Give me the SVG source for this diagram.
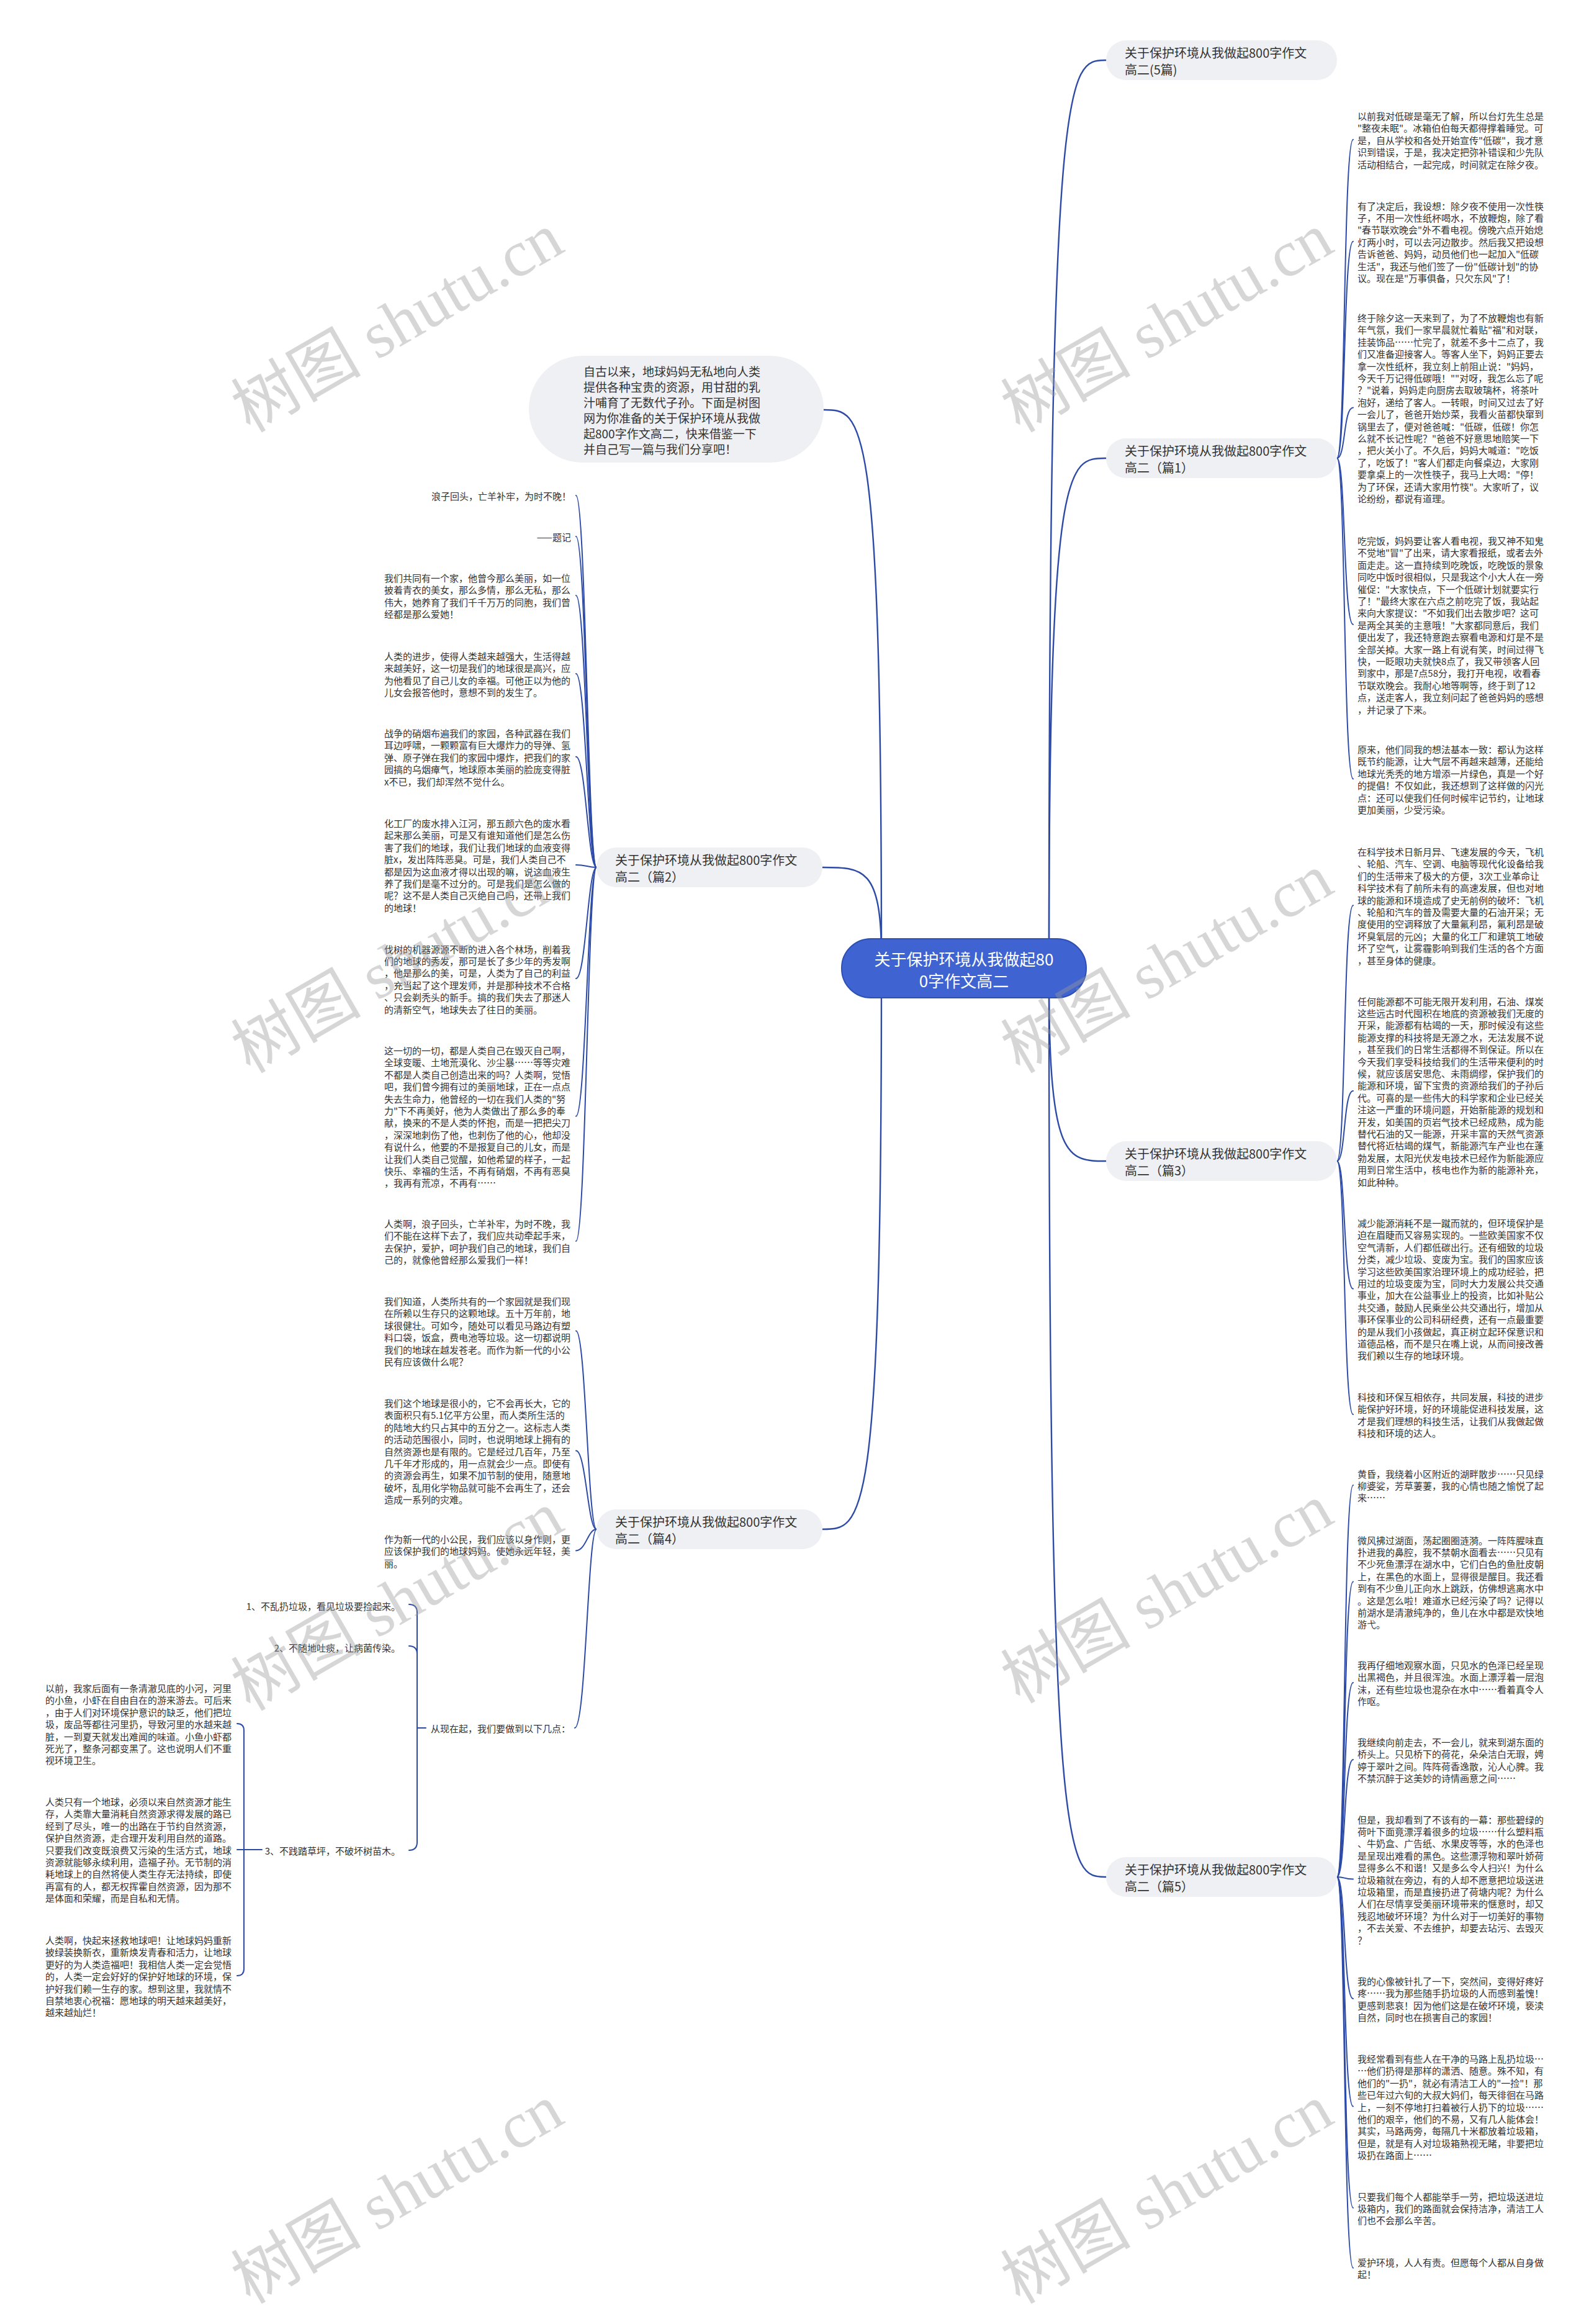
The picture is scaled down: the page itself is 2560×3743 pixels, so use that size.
<svg xmlns="http://www.w3.org/2000/svg" width="2560" height="3743" viewBox="0 0 2560 3743">
<style>
.t{font-family:"Noto Sans CJK SC","Noto Sans",sans-serif;font-size:15px;fill:#333;dominant-baseline:central}
.n{font-family:"Noto Sans CJK SC","Noto Sans",sans-serif;font-size:20px;fill:#333;dominant-baseline:central}
.ib{font-family:"Noto Sans CJK SC","Noto Sans",sans-serif;font-size:19px;fill:#333;dominant-baseline:central}
.ct{font-family:"Noto Sans CJK SC","Noto Sans",sans-serif;font-size:26px;fill:#fff;dominant-baseline:central;text-anchor:middle}
.pill{fill:#eef0f4}
.c{fill:none;stroke:#2c4aa6;stroke-width:2.4;stroke-linecap:round}
.c2{fill:none;stroke:#2c4aa6;stroke-width:2;stroke-linecap:round}
.wm{font-family:"Liberation Serif","Noto Sans CJK SC",serif;font-size:105px;fill:#9a9a9a;opacity:0.4;text-anchor:middle;dominant-baseline:central}
.e{text-anchor:end}
</style>
<rect width="2560" height="3743" fill="#fff"/>

<g id="connectors">
<path class="c" d="M1690 1540 C1690 97 1720 97 1782 97"/>
<path class="c" d="M1690 1540 C1690 738 1720 738 1782 738"/>
<path class="c" d="M1690 1580 C1690 1870 1720 1870 1782 1870"/>
<path class="c" d="M1690 1580 C1690 3023 1720 3023 1782 3023"/>
<path class="c" d="M1420 1540 C1420 660 1390 660 1327 660"/>
<path class="c" d="M1420 1540 C1420 1397 1390 1397 1325 1397"/>
<path class="c" d="M1420 1580 C1420 2463 1390 2463 1325 2463"/>

<path class="c2" d="M2154 738 C2168 738 2164 224.8 2180 224.8"/>
<path class="c2" d="M2154 738 C2168 738 2164 388.7 2180 388.7"/>
<path class="c2" d="M2154 738 C2168 738 2164 656.5 2180 656.5"/>
<path class="c2" d="M2154 738 C2168 738 2164 1005.8 2180 1005.8"/>
<path class="c2" d="M2154 738 C2168 738 2164 1254.5 2180 1254.5"/>

<path class="c2" d="M2154 1870 C2168 1870 2164 1458.3 2180 1458.3"/>
<path class="c2" d="M2154 1870 C2168 1870 2164 1757 2180 1757"/>
<path class="c2" d="M2154 1870 C2168 1870 2164 2075.7 2180 2075.7"/>
<path class="c2" d="M2154 1870 C2168 1870 2164 2278.1 2180 2278.1"/>

<path class="c2" d="M2154 3023 C2168 3023 2164 2391.9 2180 2391.9"/>
<path class="c2" d="M2154 3023 C2168 3023 2164 2547.4 2180 2547.4"/>
<path class="c2" d="M2154 3023 C2168 3023 2164 2710.1 2180 2710.1"/>
<path class="c2" d="M2154 3023 C2168 3023 2164 2834.1 2180 2834.1"/>
<path class="c2" d="M2154 3023 C2168 3023 2164 3026.5 2180 3026.5"/>
<path class="c2" d="M2154 3023 C2168 3023 2164 3219.1 2180 3219.1"/>
<path class="c2" d="M2154 3023 C2168 3023 2164 3392.6 2180 3392.6"/>
<path class="c2" d="M2154 3023 C2168 3023 2164 3555.9 2180 3555.9"/>
<path class="c2" d="M2154 3023 C2168 3023 2164 3652.7 2180 3652.7"/>

<path class="c2" d="M961 1397 C947 1397 944 798 928 798"/>
<path class="c2" d="M961 1397 C947 1397 944 864 928 864"/>
<path class="c2" d="M961 1397 C947 1397 944 959.1 928 959.1"/>
<path class="c2" d="M961 1397 C947 1397 944 1085.1 928 1085.1"/>
<path class="c2" d="M961 1397 C947 1397 944 1218.8 928 1218.8"/>
<path class="c2" d="M961 1397 C947 1397 944 1392.9 928 1392.9"/>
<path class="c2" d="M961 1397 C947 1397 944 1576 928 1576"/>
<path class="c2" d="M961 1397 C947 1397 944 1797.7 928 1797.7"/>
<path class="c2" d="M961 1397 C947 1397 944 1999.1 928 1999.1"/>

<path class="c2" d="M961 2463 C947 2463 944 2143.5 928 2143.5"/>
<path class="c2" d="M961 2463 C947 2463 944 2336.6 928 2336.6"/>
<path class="c2" d="M961 2463 C947 2463 944 2497.4 928 2497.4"/>
<path class="c2" d="M961 2463 C947 2463 944 2783 926 2783"/>

<path class="c2" d="M659 2584 Q672 2584 672 2597 V2967 Q672 2980 659 2980"/>
<path class="c2" d="M659 2651 Q672 2651 672 2664"/>
<path class="c2" d="M672 2783 H686"/>

<path class="c2" d="M382 2776 Q393 2776 393 2787 V3171 Q393 3182 382 3182"/>
<path class="c2" d="M382 2979 H422"/>
</g>

<g id="center">
<rect x="1356" y="1512" width="394" height="95" rx="47" fill="#3f63d1" stroke="#2e4fb3" stroke-width="2"/>
<text class="ct"><tspan x="1553" y="1543">关于保护环境从我做起80</tspan><tspan x="1553" y="1578">0字作文高二</tspan></text>
</g>

<g id="intro">
<rect x="852" y="573" width="475" height="172" rx="86" class="pill"/>
<text class="ib"><tspan x="940" y="597">自古以来，地球妈妈无私地向人类</tspan><tspan x="940" dy="25">提供各种宝贵的资源，用甘甜的乳</tspan><tspan x="940" dy="25">汁哺育了无数代子孙。下面是树图</tspan><tspan x="940" dy="25">网为你准备的关于保护环境从我做</tspan><tspan x="940" dy="25">起800字作文高二，快来借鉴一下</tspan><tspan x="940" dy="25">并自己写一篇与我们分享吧！</tspan></text>
</g>

<g id="b0">
<rect x="1782" y="65" width="372" height="64" rx="32" class="pill"/>
<text class="n"><tspan x="1812" y="84">关于保护环境从我做起800字作文</tspan><tspan x="1812" dy="27">高二(5篇)</tspan></text>
</g>
<g id="b1">
<rect x="1782" y="706" width="372" height="64" rx="32" class="pill"/>
<text class="n"><tspan x="1812" y="725">关于保护环境从我做起800字作文</tspan><tspan x="1812" dy="27">高二（篇1）</tspan></text>
</g>
<g id="b3">
<rect x="1782" y="1838" width="372" height="64" rx="32" class="pill"/>
<text class="n"><tspan x="1812" y="1857">关于保护环境从我做起800字作文</tspan><tspan x="1812" dy="27">高二（篇3）</tspan></text>
</g>
<g id="b5">
<rect x="1782" y="2991" width="372" height="64" rx="32" class="pill"/>
<text class="n"><tspan x="1812" y="3010">关于保护环境从我做起800字作文</tspan><tspan x="1812" dy="27">高二（篇5）</tspan></text>
</g>
<g id="b2">
<rect x="961" y="1365" width="364" height="64" rx="32" class="pill"/>
<text class="n"><tspan x="991" y="1384">关于保护环境从我做起800字作文</tspan><tspan x="991" dy="27">高二（篇2）</tspan></text>
</g>
<g id="b4">
<rect x="961" y="2431" width="364" height="64" rx="32" class="pill"/>
<text class="n"><tspan x="991" y="2450">关于保护环境从我做起800字作文</tspan><tspan x="991" dy="27">高二（篇4）</tspan></text>
</g>

<g id="r1"><text class="t"><tspan x="2187" y="186">以前我对低碳是毫无了解，所以台灯先生总是</tspan><tspan x="2187" dy="19.4">"整夜未眠"。冰箱伯伯每天都得撑着睡觉。可</tspan><tspan x="2187" dy="19.4">是，自从学校和各处开始宣传"低碳"，我才意</tspan><tspan x="2187" dy="19.4">识到错误，于是，我决定把弥补错误和少先队</tspan><tspan x="2187" dy="19.4">活动相结合，一起完成，时间就定在除夕夜。</tspan></text></g>

<g id="r2"><text class="t"><tspan x="2187" y="330.5">有了决定后，我设想：除夕夜不使用一次性筷</tspan><tspan x="2187" dy="19.4">子，不用一次性纸杯喝水，不放鞭炮，除了看</tspan><tspan x="2187" dy="19.4">"春节联欢晚会"外不看电视。傍晚六点开始熄</tspan><tspan x="2187" dy="19.4">灯两小时，可以去河边散步。然后我又把设想</tspan><tspan x="2187" dy="19.4">告诉爸爸、妈妈，动员他们也一起加入"低碳</tspan><tspan x="2187" dy="19.4">生活"，我还与他们签了一份"低碳计划"的协</tspan><tspan x="2187" dy="19.4">议。现在是"万事俱备，只欠东风"了！</tspan></text></g>

<g id="r3"><text class="t"><tspan x="2187" y="511">终于除夕这一天来到了，为了不放鞭炮也有新</tspan><tspan x="2187" dy="19.4">年气氛，我们一家早晨就忙着贴"福"和对联，</tspan><tspan x="2187" dy="19.4">挂装饰品……忙完了，就差不多十二点了，我</tspan><tspan x="2187" dy="19.4">们又准备迎接客人。等客人坐下，妈妈正要去</tspan><tspan x="2187" dy="19.4">拿一次性纸杯，我立刻上前阻止说："妈妈，</tspan><tspan x="2187" dy="19.4">今天千万记得低碳哦！""对呀，我怎么忘了呢</tspan><tspan x="2187" dy="19.4">？"说着，妈妈走向厨房去取玻璃杯，将茶叶</tspan><tspan x="2187" dy="19.4">泡好，递给了客人。一转眼，时间又过去了好</tspan><tspan x="2187" dy="19.4">一会儿了，爸爸开始炒菜，我看火苗都快窜到</tspan><tspan x="2187" dy="19.4">锅里去了，便对爸爸喊："低碳，低碳！你怎</tspan><tspan x="2187" dy="19.4">么就不长记性呢？"爸爸不好意思地赔笑一下</tspan><tspan x="2187" dy="19.4">，把火关小了。不久后，妈妈大喊道："吃饭</tspan><tspan x="2187" dy="19.4">了，吃饭了！"客人们都走向餐桌边，大家刚</tspan><tspan x="2187" dy="19.4">要拿桌上的一次性筷子，我马上大喝："停！</tspan><tspan x="2187" dy="19.4">为了环保，还请大家用竹筷"。大家听了，议</tspan><tspan x="2187" dy="19.4">论纷纷，都说有道理。</tspan></text></g>

<g id="r4"><text class="t"><tspan x="2187" y="870">吃完饭，妈妈要让客人看电视，我又神不知鬼</tspan><tspan x="2187" dy="19.4">不觉地"冒"了出来，请大家看报纸，或者去外</tspan><tspan x="2187" dy="19.4">面走走。这一直持续到吃晚饭，吃晚饭的景象</tspan><tspan x="2187" dy="19.4">同吃中饭时很相似，只是我这个小大人在一旁</tspan><tspan x="2187" dy="19.4">催促："大家快点，下一个低碳计划就要实行</tspan><tspan x="2187" dy="19.4">了！"最终大家在六点之前吃完了饭，我站起</tspan><tspan x="2187" dy="19.4">来向大家提议："不如我们出去散步吧？这可</tspan><tspan x="2187" dy="19.4">是两全其美的主意哦！"大家都同意后，我们</tspan><tspan x="2187" dy="19.4">便出发了，我还特意跑去察看电源和灯是不是</tspan><tspan x="2187" dy="19.4">全部关掉。大家一路上有说有笑，时间过得飞</tspan><tspan x="2187" dy="19.4">快，一眨眼功夫就快8点了，我又带领客人回</tspan><tspan x="2187" dy="19.4">到家中，那是7点58分，我打开电视，收看春</tspan><tspan x="2187" dy="19.4">节联欢晚会。我耐心地等啊等，终于到了12</tspan><tspan x="2187" dy="19.4">点，送走客人，我立刻问起了爸爸妈妈的感想</tspan><tspan x="2187" dy="19.4">，并记录了下来。</tspan></text></g>

<g id="r5"><text class="t"><tspan x="2187" y="1206">原来，他们同我的想法基本一致：都认为这样</tspan><tspan x="2187" dy="19.4">既节约能源，让大气层不再越来越薄，还能给</tspan><tspan x="2187" dy="19.4">地球光秃秃的地方增添一片绿色，真是一个好</tspan><tspan x="2187" dy="19.4">的提倡！不仅如此，我还想到了这样做的闪光</tspan><tspan x="2187" dy="19.4">点：还可以使我们任何时候牢记节约，让地球</tspan><tspan x="2187" dy="19.4">更加美丽，少受污染。</tspan></text></g>

<g id="r6"><text class="t"><tspan x="2187" y="1371">在科学技术日新月异、飞速发展的今天，飞机</tspan><tspan x="2187" dy="19.4">、轮船、汽车、空调、电脑等现代化设备给我</tspan><tspan x="2187" dy="19.4">们的生活带来了极大的方便，3次工业革命让</tspan><tspan x="2187" dy="19.4">科学技术有了前所未有的高速发展，但也对地</tspan><tspan x="2187" dy="19.4">球的能源和环境造成了史无前例的破坏：飞机</tspan><tspan x="2187" dy="19.4">、轮船和汽车的普及需要大量的石油开采；无</tspan><tspan x="2187" dy="19.4">度使用的空调释放了大量氟利昂，氟利昂是破</tspan><tspan x="2187" dy="19.4">坏臭氧层的元凶；大量的化工厂和建筑工地破</tspan><tspan x="2187" dy="19.4">坏了空气，让雾霾影响到我们生活的各个方面</tspan><tspan x="2187" dy="19.4">，甚至身体的健康。</tspan></text></g>

<g id="r7"><text class="t"><tspan x="2187" y="1611.5">任何能源都不可能无限开发利用，石油、煤炭</tspan><tspan x="2187" dy="19.4">这些远古时代囤积在地底的资源被我们无度的</tspan><tspan x="2187" dy="19.4">开采，能源都有枯竭的一天，那时候没有这些</tspan><tspan x="2187" dy="19.4">能源支撑的科技将是无源之水，无法发展不说</tspan><tspan x="2187" dy="19.4">，甚至我们的日常生活都得不到保证。所以在</tspan><tspan x="2187" dy="19.4">今天我们享受科技给我们的生活带来便利的时</tspan><tspan x="2187" dy="19.4">候，就应该居安思危、未雨绸缪，保护我们的</tspan><tspan x="2187" dy="19.4">能源和环境，留下宝贵的资源给我们的子孙后</tspan><tspan x="2187" dy="19.4">代。可喜的是一些伟大的科学家和企业已经关</tspan><tspan x="2187" dy="19.4">注这一严重的环境问题，开始新能源的规划和</tspan><tspan x="2187" dy="19.4">开发，如美国的页岩气技术已经成熟，成为能</tspan><tspan x="2187" dy="19.4">替代石油的又一能源，开采丰富的天然气资源</tspan><tspan x="2187" dy="19.4">替代将近枯竭的煤气，新能源汽车产业也在蓬</tspan><tspan x="2187" dy="19.4">勃发展，太阳光伏发电技术已经作为新能源应</tspan><tspan x="2187" dy="19.4">用到日常生活中，核电也作为新的能源补充，</tspan><tspan x="2187" dy="19.4">如此种种。</tspan></text></g>

<g id="r8"><text class="t"><tspan x="2187" y="1969">减少能源消耗不是一蹴而就的，但环境保护是</tspan><tspan x="2187" dy="19.4">迫在眉睫而又容易实现的。一些欧美国家不仅</tspan><tspan x="2187" dy="19.4">空气清新，人们都低碳出行。还有细致的垃圾</tspan><tspan x="2187" dy="19.4">分类，减少垃圾、变废为宝。我们的国家应该</tspan><tspan x="2187" dy="19.4">学习这些欧美国家治理环境上的成功经验，把</tspan><tspan x="2187" dy="19.4">用过的垃圾变废为宝，同时大力发展公共交通</tspan><tspan x="2187" dy="19.4">事业，加大在公益事业上的投资，比如补贴公</tspan><tspan x="2187" dy="19.4">共交通，鼓励人民乘坐公共交通出行，增加从</tspan><tspan x="2187" dy="19.4">事环保事业的公司科研经费，还有一点最重要</tspan><tspan x="2187" dy="19.4">的是从我们小孩做起，真正树立起环保意识和</tspan><tspan x="2187" dy="19.4">道德品格，而不是只在嘴上说，从而间接改善</tspan><tspan x="2187" dy="19.4">我们赖以生存的地球环境。</tspan></text></g>

<g id="r9"><text class="t"><tspan x="2187" y="2249">科技和环保互相依存，共同发展，科技的进步</tspan><tspan x="2187" dy="19.4">能保护好环境，好的环境能促进科技发展，这</tspan><tspan x="2187" dy="19.4">才是我们理想的科技生活，让我们从我做起做</tspan><tspan x="2187" dy="19.4">科技和环境的达人。</tspan></text></g>

<g id="r10"><text class="t"><tspan x="2187" y="2372.5">黄昏，我绕着小区附近的湖畔散步……只见绿</tspan><tspan x="2187" dy="19.4">柳婆娑，芳草萋萋，我的心情也随之愉悦了起</tspan><tspan x="2187" dy="19.4">来……</tspan></text></g>

<g id="r11"><text class="t"><tspan x="2187" y="2479.5">微风拂过湖面，荡起圈圈涟漪。一阵阵腥味直</tspan><tspan x="2187" dy="19.4">扑进我的鼻腔，我不禁朝水面看去……只见有</tspan><tspan x="2187" dy="19.4">不少死鱼漂浮在湖水中，它们白色的鱼肚皮朝</tspan><tspan x="2187" dy="19.4">上，在黑色的水面上，显得很是醒目。我还看</tspan><tspan x="2187" dy="19.4">到有不少鱼儿正向水上跳跃，仿佛想逃离水中</tspan><tspan x="2187" dy="19.4">。这是怎么啦！难道水已经污染了吗？记得以</tspan><tspan x="2187" dy="19.4">前湖水是清澈纯净的，鱼儿在水中都是欢快地</tspan><tspan x="2187" dy="19.4">游弋。</tspan></text></g>

<g id="r12"><text class="t"><tspan x="2187" y="2681">我再仔细地观察水面，只见水的色泽已经呈现</tspan><tspan x="2187" dy="19.4">出黑褐色，并且很浑浊。水面上漂浮着一层泡</tspan><tspan x="2187" dy="19.4">沫，还有些垃圾也混杂在水中……看着真令人</tspan><tspan x="2187" dy="19.4">作呕。</tspan></text></g>

<g id="r13"><text class="t"><tspan x="2187" y="2805">我继续向前走去，不一会儿，就来到湖东面的</tspan><tspan x="2187" dy="19.4">桥头上。只见桥下的荷花，朵朵洁白无瑕，娉</tspan><tspan x="2187" dy="19.4">婷于翠叶之间。阵阵荷香逸散，沁人心脾。我</tspan><tspan x="2187" dy="19.4">不禁沉醉于这美妙的诗情画意之间……</tspan></text></g>

<g id="r14"><text class="t"><tspan x="2187" y="2929.5">但是，我却看到了不该有的一幕：那些碧绿的</tspan><tspan x="2187" dy="19.4">荷叶下面竟漂浮着很多的垃圾……什么塑料瓶</tspan><tspan x="2187" dy="19.4">、牛奶盒、广告纸、水果皮等等，水的色泽也</tspan><tspan x="2187" dy="19.4">是呈现出难看的黑色。这些漂浮物和翠叶娇荷</tspan><tspan x="2187" dy="19.4">显得多么不和谐！又是多么令人扫兴！为什么</tspan><tspan x="2187" dy="19.4">垃圾箱就在旁边，有的人却不愿意把垃圾送进</tspan><tspan x="2187" dy="19.4">垃圾箱里，而是直接扔进了荷塘内呢？为什么</tspan><tspan x="2187" dy="19.4">人们在尽情享受美丽环境带来的惬意时，却又</tspan><tspan x="2187" dy="19.4">残忍地破坏环境？为什么对于一切美好的事物</tspan><tspan x="2187" dy="19.4">，不去关爱、不去维护，却要去玷污、去毁灭</tspan><tspan x="2187" dy="19.4">？</tspan></text></g>

<g id="r15"><text class="t"><tspan x="2187" y="3190">我的心像被针扎了一下，突然间，变得好疼好</tspan><tspan x="2187" dy="19.4">疼……我为那些随手扔垃圾的人而感到羞愧！</tspan><tspan x="2187" dy="19.4">更感到悲哀！因为他们这是在破坏环境，亵渎</tspan><tspan x="2187" dy="19.4">自然，同时也在损害自己的家园！</tspan></text></g>

<g id="r16"><text class="t"><tspan x="2187" y="3315">我经常看到有些人在干净的马路上乱扔垃圾…</tspan><tspan x="2187" dy="19.4">…他们扔得是那样的潇洒、随意。殊不知，有</tspan><tspan x="2187" dy="19.4">他们的"一扔"，就必有清洁工人的"一捡"！那</tspan><tspan x="2187" dy="19.4">些已年过六旬的大叔大妈们，每天徘徊在马路</tspan><tspan x="2187" dy="19.4">上，一刻不停地打扫着被行人扔下的垃圾……</tspan><tspan x="2187" dy="19.4">他们的艰辛，他们的不易，又有几人能体会！</tspan><tspan x="2187" dy="19.4">其实，马路两旁，每隔几十米都放着垃圾箱，</tspan><tspan x="2187" dy="19.4">但是，就是有人对垃圾箱熟视无睹，非要把垃</tspan><tspan x="2187" dy="19.4">圾扔在路面上……</tspan></text></g>

<g id="r17"><text class="t"><tspan x="2187" y="3536.5">只要我们每个人都能举手一劳，把垃圾送进垃</tspan><tspan x="2187" dy="19.4">圾箱内，我们的路面就会保持洁净，清洁工人</tspan><tspan x="2187" dy="19.4">们也不会那么辛苦。</tspan></text></g>

<g id="r18"><text class="t"><tspan x="2187" y="3643">爱护环境，人人有责。但愿每个人都从自身做</tspan><tspan x="2187" dy="19.4">起！</tspan></text></g>

<g id="l1"><text class="t e" x="920" y="798">浪子回头，亡羊补牢，为时不晚！</text></g>
<g id="l2"><text class="t e" x="920" y="864">——题记</text></g>

<g id="l3"><text class="t"><tspan x="619" y="930">我们共同有一个家，他曾今那么美丽，如一位</tspan><tspan x="619" dy="19.4">披着青衣的美女，那么多情，那么无私，那么</tspan><tspan x="619" dy="19.4">伟大，她养育了我们千千万万的同胞，我们曾</tspan><tspan x="619" dy="19.4">经都是那么爱她！</tspan></text></g>

<g id="l4"><text class="t"><tspan x="619" y="1056">人类的进步，使得人类越来越强大，生活得越</tspan><tspan x="619" dy="19.4">来越美好，这一切是我们的地球很是高兴，应</tspan><tspan x="619" dy="19.4">为他看见了自己儿女的幸福。可他正以为他的</tspan><tspan x="619" dy="19.4">儿女会报答他时，意想不到的发生了。</tspan></text></g>

<g id="l5"><text class="t"><tspan x="619" y="1180">战争的硝烟布遍我们的家园，各种武器在我们</tspan><tspan x="619" dy="19.4">耳边呼啸，一颗颗富有巨大爆炸力的导弹、氢</tspan><tspan x="619" dy="19.4">弹、原子弹在我们的家园中爆炸，把我们的家</tspan><tspan x="619" dy="19.4">园搞的乌烟瘴气，地球原本美丽的脸庞变得脏</tspan><tspan x="619" dy="19.4">x不已，我们却浑然不觉什么。</tspan></text></g>

<g id="l6"><text class="t"><tspan x="619" y="1325">化工厂的废水排入江河，那五颜六色的废水看</tspan><tspan x="619" dy="19.4">起来那么美丽，可是又有谁知道他们是怎么伤</tspan><tspan x="619" dy="19.4">害了我们的地球，我们让我们地球的血液变得</tspan><tspan x="619" dy="19.4">脏x，发出阵阵恶臭。可是，我们人类自己不</tspan><tspan x="619" dy="19.4">都是因为这血液才得以出现的嘛，说这血液生</tspan><tspan x="619" dy="19.4">养了我们是毫不过分的。可是我们是怎么做的</tspan><tspan x="619" dy="19.4">呢？这不是人类自己灭绝自己吗，还带上我们</tspan><tspan x="619" dy="19.4">的地球！</tspan></text></g>

<g id="l7"><text class="t"><tspan x="619" y="1527.5">伐树的机器源源不断的进入各个林场，削着我</tspan><tspan x="619" dy="19.4">们的地球的秀发，那可是长了多少年的秀发啊</tspan><tspan x="619" dy="19.4">，他是那么的美，可是，人类为了自己的利益</tspan><tspan x="619" dy="19.4">，充当起了这个理发师，并是那种技术不合格</tspan><tspan x="619" dy="19.4">、只会剃秃头的新手。搞的我们失去了那迷人</tspan><tspan x="619" dy="19.4">的清新空气，地球失去了往日的美丽。</tspan></text></g>

<g id="l8"><text class="t"><tspan x="619" y="1691">这一切的一切，都是人类自己在毁灭自己啊，</tspan><tspan x="619" dy="19.4">全球变暖、土地荒漠化、沙尘暴……等等灾难</tspan><tspan x="619" dy="19.4">不都是人类自己创造出来的吗？人类啊，觉悟</tspan><tspan x="619" dy="19.4">吧，我们曾今拥有过的美丽地球，正在一点点</tspan><tspan x="619" dy="19.4">失去生命力，他曾经的一切在我们人类的"努</tspan><tspan x="619" dy="19.4">力"下不再美好，他为人类做出了那么多的奉</tspan><tspan x="619" dy="19.4">献，换来的不是人类的怀抱，而是一把把尖刀</tspan><tspan x="619" dy="19.4">，深深地刺伤了他，也刺伤了他的心，他却没</tspan><tspan x="619" dy="19.4">有说什么，他要的不是报复自己的儿女，而是</tspan><tspan x="619" dy="19.4">让我们人类自己觉醒，如他希望的样子，一起</tspan><tspan x="619" dy="19.4">快乐、幸福的生活，不再有硝烟，不再有恶臭</tspan><tspan x="619" dy="19.4">，我再有荒凉，不再有……</tspan></text></g>

<g id="l9"><text class="t"><tspan x="619" y="1970">人类啊，浪子回头，亡羊补牢，为时不晚，我</tspan><tspan x="619" dy="19.4">们不能在这样下去了，我们应共动牵起手来，</tspan><tspan x="619" dy="19.4">去保护，爱护，呵护我们自己的地球，我们自</tspan><tspan x="619" dy="19.4">己的，就像他曾经那么爱我们一样！</tspan></text></g>

<g id="l10"><text class="t"><tspan x="619" y="2095">我们知道，人类所共有的一个家园就是我们现</tspan><tspan x="619" dy="19.4">在所赖以生存只的这颗地球。五十万年前，地</tspan><tspan x="619" dy="19.4">球很健壮。可如今，随处可以看见马路边有塑</tspan><tspan x="619" dy="19.4">料口袋，饭盒，费电池等垃圾。这一切都说明</tspan><tspan x="619" dy="19.4">我们的地球在越发苍老。而作为新一代的小公</tspan><tspan x="619" dy="19.4">民有应该做什么呢？</tspan></text></g>

<g id="l11"><text class="t"><tspan x="619" y="2259">我们这个地球是很小的，它不会再长大，它的</tspan><tspan x="619" dy="19.4">表面积只有5.1亿平方公里，而人类所生活的</tspan><tspan x="619" dy="19.4">的陆地大约只占其中的五分之一。这标志人类</tspan><tspan x="619" dy="19.4">的活动范围很小，同时，也说明地球上拥有的</tspan><tspan x="619" dy="19.4">自然资源也是有限的。它是经过几百年，乃至</tspan><tspan x="619" dy="19.4">几千年才形成的，用一点就会少一点。即使有</tspan><tspan x="619" dy="19.4">的资源会再生，如果不加节制的使用，随意地</tspan><tspan x="619" dy="19.4">破坏，乱用化学物品就可能不会再生了，还会</tspan><tspan x="619" dy="19.4">造成一系列的灾难。</tspan></text></g>

<g id="l12"><text class="t"><tspan x="619" y="2478">作为新一代的小公民，我们应该以身作则，更</tspan><tspan x="619" dy="19.4">应该保护我们的地球妈妈。使她永远年轻，美</tspan><tspan x="619" dy="19.4">丽。</tspan></text></g>

<g id="s0"><text class="t" x="694" y="2783">从现在起，我们要做到以下几点：</text></g>
<g id="s1"><text class="t e" x="645" y="2586">1、不乱扔垃圾，看见垃圾要捡起来。</text></g>
<g id="s2"><text class="t e" x="645" y="2653">2、不随地吐痰，让病菌传染。</text></g>
<g id="s3"><text class="t e" x="645" y="2980">3、不践踏草坪，不破坏树苗木。</text></g>

<g id="f1"><text class="t"><tspan x="73" y="2718">以前，我家后面有一条清澈见底的小河，河里</tspan><tspan x="73" dy="19.4">的小鱼，小虾在自由自在的游来游去。可后来</tspan><tspan x="73" dy="19.4">，由于人们对环境保护意识的缺乏，他们把垃</tspan><tspan x="73" dy="19.4">圾，废品等都往河里扔，导致河里的水越来越</tspan><tspan x="73" dy="19.4">脏，一到夏天就发出难闻的味道。小鱼小虾都</tspan><tspan x="73" dy="19.4">死光了，整条河都变黑了。这也说明人们不重</tspan><tspan x="73" dy="19.4">视环境卫生。</tspan></text></g>

<g id="f2"><text class="t"><tspan x="73" y="2901">人类只有一个地球，必须以来自然资源才能生</tspan><tspan x="73" dy="19.4">存，人类靠大量消耗自然资源求得发展的路已</tspan><tspan x="73" dy="19.4">经到了尽头，唯一的出路在于节约自然资源，</tspan><tspan x="73" dy="19.4">保护自然资源，走合理开发利用自然的道路。</tspan><tspan x="73" dy="19.4">只要我们改变既浪费又污染的生活方式，地球</tspan><tspan x="73" dy="19.4">资源就能够永续利用，造福子孙。无节制的消</tspan><tspan x="73" dy="19.4">耗地球上的自然将使人类生存无法持续，即使</tspan><tspan x="73" dy="19.4">再富有的人，都无权挥霍自然资源，因为那不</tspan><tspan x="73" dy="19.4">是体面和荣耀，而是自私和无情。</tspan></text></g>

<g id="f3"><text class="t"><tspan x="73" y="3124">人类啊，快起来拯救地球吧！让地球妈妈重新</tspan><tspan x="73" dy="19.4">披绿装换新衣，重新焕发青春和活力，让地球</tspan><tspan x="73" dy="19.4">更好的为人类造福吧！我相信人类一定会觉悟</tspan><tspan x="73" dy="19.4">的，人类一定会好好的保护好地球的环境，保</tspan><tspan x="73" dy="19.4">护好我们赖一生存的家。想到这里，我就情不</tspan><tspan x="73" dy="19.4">自禁地衷心祝福：愿地球的明天越来越美好，</tspan><tspan x="73" dy="19.4">越来越灿烂！</tspan></text></g>

<g id="watermarks">
<text class="wm" transform="translate(640 520) rotate(-30)">树图 shutu.cn</text>
<text class="wm" transform="translate(1880 520) rotate(-30)">树图 shutu.cn</text>
<text class="wm" transform="translate(640 1552) rotate(-30)">树图 shutu.cn</text>
<text class="wm" transform="translate(1880 1552) rotate(-30)">树图 shutu.cn</text>
<text class="wm" transform="translate(640 2579) rotate(-30)">树图 shutu.cn</text>
<text class="wm" transform="translate(1880 2567) rotate(-30)">树图 shutu.cn</text>
<text class="wm" transform="translate(640 3534) rotate(-30)">树图 shutu.cn</text>
<text class="wm" transform="translate(1880 3534) rotate(-30)">树图 shutu.cn</text>
</g>
</svg>
